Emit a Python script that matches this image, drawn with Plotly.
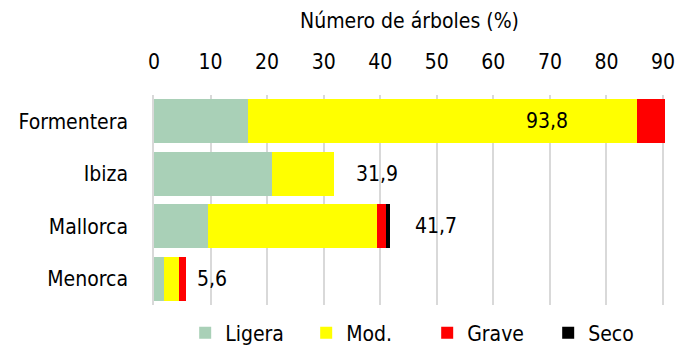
import plotly.graph_objects as go

# Damage level share of trees per island (%)
islands = ["Formentera", "Ibiza", "Mallorca", "Menorca"]
ligera = [16.6, 20.8, 9.5, 1.8]
moderado = [68.8, 11.1, 29.9, 2.7]
grave = [8.4, 0.0, 1.6, 1.1]
seco = [0.0, 0.0, 0.7, 0.0]
totales = [93.8, 31.9, 41.7, 5.6]

x_ticks = [0, 10, 20, 30, 40, 50, 60, 70, 80, 90]

# horizontal placement of the total labels relative to each bar's end (data units)
label_offsets = [-24.4, 7.5, 8.1, 4.6]

FONT = "Liberation Sans Narrow, Arial Narrow, DejaVu Sans Condensed, sans-serif"
FS = 21

series = [
    ("Ligera", ligera, "#a9d0b7"),
    ("Mod.", moderado, "#ffff00"),
    ("Grave", grave, "#ff0000"),
    ("Seco", seco, "#000000"),
]

fig = go.Figure()
for name, vals, color in series:
    fig.add_trace(go.Bar(
        y=islands, x=vals, name=name, orientation="h",
        marker=dict(color=color, line=dict(width=0)),
        hoverinfo="skip",
    ))

for isla, tot, off in zip(islands, totales, label_offsets):
    fig.add_annotation(
        x=tot + off, y=isla, xref="x", yref="y",
        text=f"{tot:.1f}".replace(".", ","), showarrow=False,
        font=dict(family=FONT, size=FS, color="#000000"),
        xanchor="center", yanchor="middle",
    )

fig.update_layout(
    width=691, height=348,
    margin=dict(l=154, r=26, t=95, b=43, autoexpand=False),
    paper_bgcolor="white", plot_bgcolor="white",
    barmode="stack", bargap=0.17,
    font=dict(family=FONT, size=FS, color="#000000"),
    showlegend=True,
    legend=dict(
        orientation="h", xref="container", yref="container",
        x=0.268, xanchor="left", y=0.043, yanchor="middle",
        font=dict(family=FONT, size=FS, color="#000000"),
        traceorder="normal", itemwidth=30, entrywidth=76,
        bgcolor="rgba(0,0,0,0)",
    ),
    xaxis=dict(
        side="top", range=[0, 90.35], tickvals=x_ticks,
        showgrid=True, gridcolor="#d9d9d9", gridwidth=1.5,
        zeroline=False, showline=False, ticks="",
        ticklabelstandoff=21, automargin=False,
        title=dict(text="Número de árboles (%)", standoff=15,
                   font=dict(family=FONT, size=FS, color="#000000")),
    ),
    yaxis=dict(
        categoryorder="array", categoryarray=islands, autorange="reversed",
        showgrid=False, zeroline=False,
        showline=True, linecolor="#d9d9d9", linewidth=1.5,
        ticks="", ticklabelstandoff=20, automargin=False,
    ),
)

fig.write_html("out.html")
